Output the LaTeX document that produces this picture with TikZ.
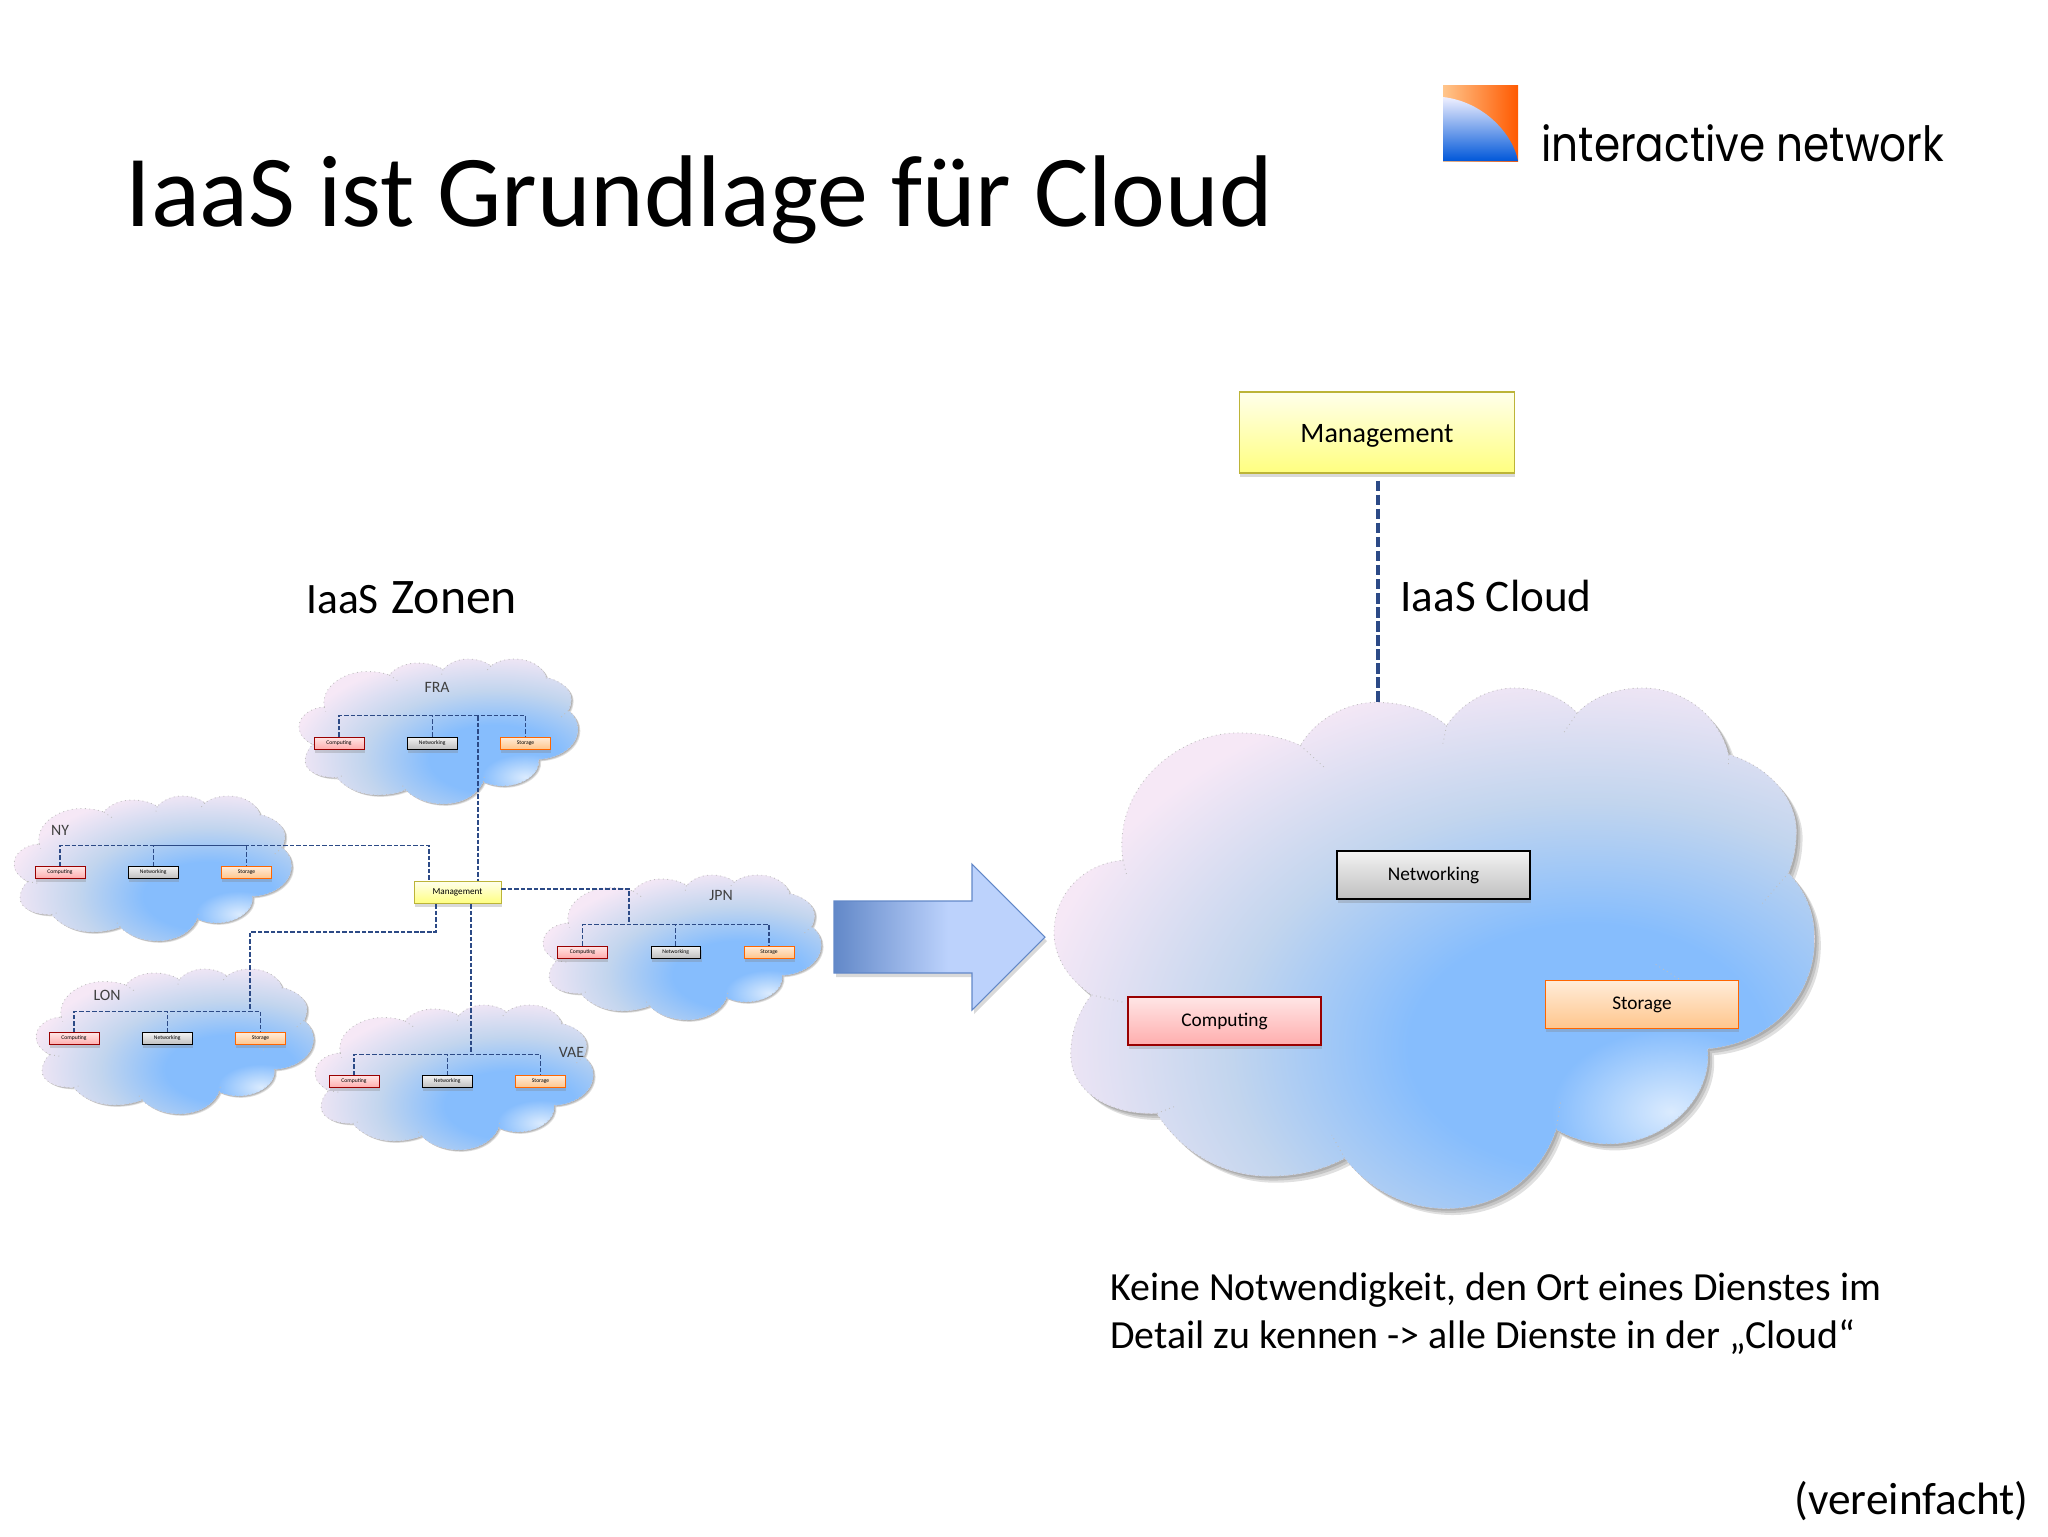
\documentclass[tikz,border=0pt]{standalone}
\usepackage{fontspec}
\setmainfont{Carlito}
\newfontfamily\logofont{Poppins}
\usetikzlibrary{positioning, shadows, fadings}
\definecolor{cloudblue}{HTML}{86BDFD}
\definecolor{cloudmid}{HTML}{C2D5EE}
\definecolor{cloudpink}{HTML}{F6E8F6}
\definecolor{linkblue}{HTML}{2C4A86}
\definecolor{arrowdark}{HTML}{6288C8}
\definecolor{arrowlight}{HTML}{BCD2FC}
\pgfdeclareradialshading{cloudglow}{\pgfpointorigin}{color(0bp)=(cloudblue); color(8bp)=(cloudblue); color(16bp)=(cloudmid); color(25bp)=(cloudpink); color(50bp)=(cloudpink)}
\pgfdeclarehorizontalshading{arrowglow}{100bp}{color(0bp)=(arrowdark); color(25bp)=(arrowdark); color(52bp)=(arrowlight); color(100bp)=(arrowlight)}
\tikzfading[name=spotfade, inner color=transparent!0, outer color=transparent!100]
\tikzstyle{shadowbox} = [drop shadow={shadow xshift=0.5pt, shadow yshift=-2pt, opacity=0.3}]
\tikzstyle{compcolor} = [draw=red!60!black, top color=red!10, bottom color=red!32, shadowbox]
\tikzstyle{netcolor} = [draw=black, top color=black!5, bottom color=black!25, shadowbox]
\tikzstyle{storcolor} = [draw=orange!80!red, top color=orange!15, bottom color=orange!45, shadowbox]
\tikzstyle{mgmtcolor} = [draw=yellow!70!black, top color=yellow!8, bottom color=yellow!50, shadowbox]
\tikzstyle{bigbox} = [rectangle, inner sep=0pt, minimum width=3.86cm, minimum height=0.96cm, line width=0.7pt, font=\fontsize{11}{13}\selectfont]
\tikzstyle{zonebox} = [rectangle, inner sep=0pt, minimum width=1cm, minimum height=0.24cm, line width=0.3pt, font=\fontsize{3.2}{4}\selectfont]
\tikzstyle{biglink} = [draw=linkblue, line width=1.8pt, dash pattern=on 6pt off 2pt]
\tikzstyle{zonelink} = [draw=linkblue, line width=0.7pt, dash pattern=on 2.6pt off 1.1pt]
\tikzstyle{zonelabel} = [font=\fontsize{9}{11}\selectfont, text=black!75]
\tikzstyle{heading} = [anchor=base west, inner sep=0pt, font=\fontsize{25.7}{30}\selectfont]
\newcommand{\cloudpath}{(180,560) .. controls (160,350) and (290,205) .. (400,205) .. controls (450,205) and (490,220) .. (520,240)
 .. controls (550,165) and (610,120) .. (665,120) .. controls (720,120) and (770,145) .. (800,185)
 .. controls (830,120) and (880,80) .. (930,80) .. controls (980,80) and (1025,110) .. (1050,150)
 .. controls (1080,105) and (1125,80) .. (1175,80) .. controls (1250,80) and (1320,150) .. (1340,265)
 .. controls (1420,300) and (1470,390) .. (1470,480) .. controls (1470,520) and (1465,560) .. (1455,595)
 .. controls (1490,650) and (1505,710) .. (1505,780) .. controls (1505,940) and (1420,1070) .. (1300,1085)
 .. controls (1310,1220) and (1220,1350) .. (1110,1350) .. controls (1075,1350) and (1040,1335) .. (1010,1310)
 .. controls (980,1440) and (900,1530) .. (800,1530) .. controls (720,1530) and (650,1475) .. (605,1390)
 .. controls (560,1425) and (510,1440) .. (460,1440) .. controls (370,1440) and (290,1370) .. (245,1265)
 .. controls (150,1270) and (80,1200) .. (80,1100) .. controls (80,1040) and (95,980) .. (120,935)
 .. controls (75,890) and (48,830) .. (48,760) .. controls (48,660) and (100,570) .. (180,560) -- cycle}
% cloud: left, top, xscale, yscale
\newcommand{\cloudshape}[4]{
\begin{scope}[shift={(#1,#2)}, xscale=#3, yscale=#4, shift={(-48,-80)}]
\fill [black, opacity=0.12, shift={(4,6)}] \cloudpath;
\fill [black, opacity=0.12, shift={(8,12)}] \cloudpath;
\fill [black, opacity=0.12, shift={(12,18)}] \cloudpath;
\begin{scope}
\clip \cloudpath;
\fill [cloudpink] (0,0) rectangle (1600,1600);
\shade [shading=cloudglow] (1070,1080) circle (1070);
\fill [white, opacity=0.7, path fading=spotfade] (1230,1260) circle (230);
\end{scope}
\draw [black!25, line width=0.5pt, dotted] \cloudpath;
\draw [black!25, line width=0.5pt, dotted] (520,240) -- (565,300) (800,185) -- (793,235) (1050,150) -- (1022,210) (1340,265) -- (1340,295) (1455,595) -- (1405,680) (1245,890) -- (1195,845) (1010,1310) -- (1018,1235) (605,1390) -- (580,1325) (245,1265) -- (280,1245) (120,935) -- (180,955) (180,560) -- (188,605);
\end{scope}
}
\begin{document}
\begin{tikzpicture}[x=0.02cm, y=-0.02cm, node distance=0.855cm]
\useasboundingbox (0,0) rectangle (2048,1536);
% Logo
\shade [left color=orange!45, right color=orange!70!red] (1443,85) rectangle (1518,161);
\shade [shading angle=-45, top color=blue!6!white, bottom color=blue!60!cyan!85!black] (1443,97) .. controls (1485,102) and (1513,135) .. (1518,161) -- (1443,161) -- cycle;
\node (logotext) [anchor=base west, inner sep=0pt, font=\logofont\fontsize{24}{30}\selectfont] at (1541,161) {\scalebox{1}[1.15]{interactive network}};
% Titles
\node (title) [anchor=base west, inner sep=0pt, font=\fontsize{58}{70}\selectfont] at (125,226) {IaaS ist Grundlage für Cloud};
\node (zonen) [anchor=base west, inner sep=0pt] at (306,613) {\fontsize{24.7}{30}\selectfont IaaS\hspace{0.25cm}\fontsize{28.3}{30}\selectfont Zonen};
\node (cloudtitle) [heading] at (1400,611) {IaaS Cloud};
% Clouds
\cloudshape{299}{659}{0.1915}{0.1}
\cloudshape{14}{796}{0.1905}{0.1}
\cloudshape{543}{875}{0.191}{0.1}
\cloudshape{36}{969}{0.1905}{0.1}
\cloudshape{315}{1005}{0.191}{0.1}
\cloudshape{1054}{688}{0.522}{0.359}
% Zone FRA
\node (fralabel) [zonelabel] at (437,687) {FRA};
\node (fracomp) [zonebox, compcolor] at (339,743) {Computing};
\node (franet) [zonebox, netcolor, right=of fracomp] {Networking};
\node (frastor) [zonebox, storcolor, right=of franet] {Storage};
\coordinate [above=0.42cm of franet] (frabus);
% Zone NY
\node (nylabel) [zonelabel] at (60,830) {NY};
\node (nycomp) [zonebox, compcolor] at (60,872.5) {Computing};
\node (nynet) [zonebox, netcolor, right=of nycomp] {Networking};
\node (nystor) [zonebox, storcolor, right=of nynet] {Storage};
\coordinate [above=0.42cm of nynet] (nybus);
% Zone JPN
\node (jpnlabel) [zonelabel] at (721,895) {JPN};
\node (jpncomp) [zonebox, compcolor] at (582.5,952) {Computing};
\node (jpnnet) [zonebox, netcolor, right=of jpncomp] {Networking};
\node (jpnstor) [zonebox, storcolor, right=of jpnnet] {Storage};
\coordinate [above=0.42cm of jpnnet] (jpnbus);
% Zone LON
\node (lonlabel) [zonelabel] at (107,995) {LON};
\node (loncomp) [zonebox, compcolor] at (74,1038.5) {Computing};
\node (lonnet) [zonebox, netcolor, right=of loncomp] {Networking};
\node (lonstor) [zonebox, storcolor, right=of lonnet] {Storage};
\coordinate [above=0.42cm of lonnet] (lonbus);
% Zone VAE
\node (vaelabel) [zonelabel] at (571.5,1052.5) {VAE};
\node (vaecomp) [zonebox, compcolor] at (354,1081.5) {Computing};
\node (vaenet) [zonebox, netcolor, right=of vaecomp] {Networking};
\node (vaestor) [zonebox, storcolor, right=of vaenet] {Storage};
\coordinate [above=0.42cm of vaenet] (vaebus);
% Zone management
\node (zonemgmt) [rectangle, inner sep=0pt, minimum width=1.74cm, minimum height=0.44cm, line width=0.3pt, mgmtcolor, font=\fontsize{5.2}{6}\selectfont] at (457.5,892.5) {Management};
\coordinate (frajoin) at (478,716);
\coordinate (nyjoin) at (429,881);
\coordinate (jpnjoin) at (629,889);
\coordinate (lonjoin) at (436,904);
\coordinate (lonbend) at (250,932);
\coordinate (vaejoin) at (471,904);
% Zone links
\draw [zonelink] (fracomp.north) |- (frabus) -| (frastor.north);
\draw [zonelink] (franet.north) -- (frabus);
\draw [zonelink] (frajoin) -- (frajoin |- zonemgmt.north);
\draw [zonelink] (nycomp.north) |- (nybus) -| (nystor.north);
\draw [zonelink] (nynet.north) -- (nybus);
\draw [zonelink] (nybus) -| (nyjoin);
\draw [zonelink] (jpncomp.north) |- (jpnbus) -| (jpnstor.north);
\draw [zonelink] (jpnnet.north) -- (jpnbus);
\draw [zonelink] (zonemgmt.east |- jpnjoin) -| (jpnjoin |- jpnbus);
\draw [zonelink] (loncomp.north) |- (lonbus) -| (lonstor.north);
\draw [zonelink] (lonnet.north) -- (lonbus);
\draw [zonelink] (lonjoin) |- (lonbend) -- (lonbend |- lonbus);
\draw [zonelink] (vaecomp.north) |- (vaebus) -| (vaestor.north);
\draw [zonelink] (vaenet.north) -- (vaebus);
\draw [zonelink] (vaejoin) -- (vaejoin |- vaebus);
% Arrow
\fill [black, opacity=0.15] (836,905) -- (974,905) -- (974,868) -- (1047,941) -- (974,1014) -- (974,977) -- (836,977) -- cycle;
\shade [shading=arrowglow, draw=arrowdark, line width=0.6pt] (834,901) -- (972,901) -- (972,864) -- (1045,937) -- (972,1010) -- (972,973) -- (834,973) -- cycle;
% Cloud services
\node (computing) [bigbox, compcolor] at (1224.5,1021) {Computing};
\node (networking) [bigbox, netcolor] at (1433.5,875) {Networking};
\node (storage) [bigbox, storcolor] at (1642,1004.5) {Storage};
\node (management) [rectangle, inner sep=0pt, minimum width=5.5cm, minimum height=1.62cm, line width=0.6pt, mgmtcolor, text height=0.5cm, text depth=0.1cm, font=\fontsize{16}{18}\selectfont] at (1377,432.5) {Management};
\coordinate (cloudtop) at (1378,703);
\draw [biglink] (management.south -| cloudtop) ++(0,7) -- (cloudtop);
% Notes
\node (note) [anchor=base west, inner sep=0pt, align=left, font=\fontsize{22.7}{27.3}\selectfont] at (1110,1348) {Keine Notwendigkeit, den Ort eines Dienstes im\\Detail zu kennen -> alle Dienste in der „Cloud“};
\node (simplified) [anchor=base east, inner sep=0pt, font=\fontsize{25.8}{30}\selectfont] at (2029,1514) {(vereinfacht)};
\end{tikzpicture}
\end{document}
